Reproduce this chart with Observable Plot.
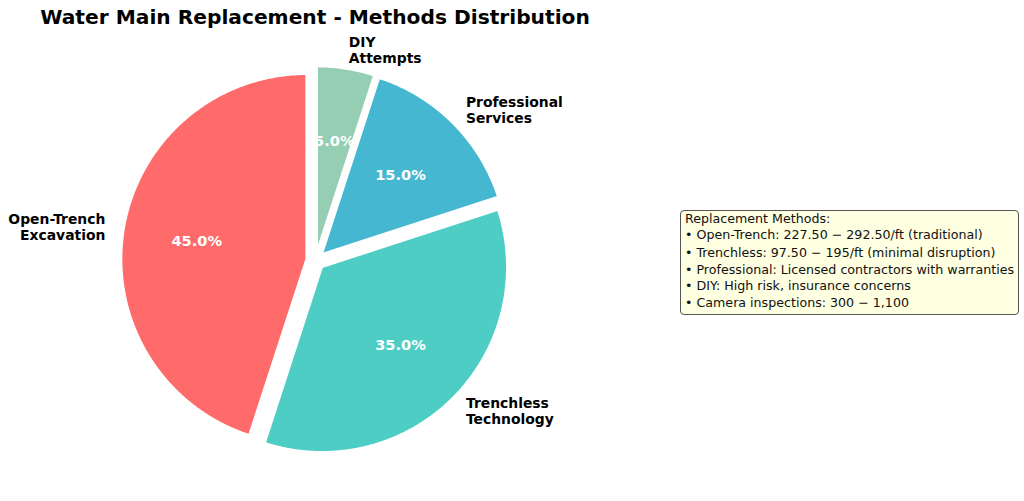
<!DOCTYPE html>
<html>
<head>
<meta charset="utf-8">
<script src="https://cdn.jsdelivr.net/npm/d3@7"></script>
<script src="https://cdn.jsdelivr.net/npm/@observablehq/plot@0.6"></script>
<style>
  html, body { margin: 0; padding: 0; background: #fff; }
  body { width: 1024px; height: 501px; position: relative; overflow: hidden; font-family: "DejaVu Sans", sans-serif; }
  #title { position: absolute; left: 0; top: 0; width: 630px; height: 30px; line-height: 34px; text-align: center; font-size: 20.2px; font-weight: bold; color: #000; }
  #chart { position: absolute; left: 0; top: 30px; }
  #note { position: absolute; left: 680px; top: 210px; width: 339px; height: 105px; box-sizing: border-box;
          border: 1px solid #555; border-radius: 4px; background: rgb(255,255,226); padding: 0 0 0 4px; font-size: 12.65px; color: #111; }
  #note div { white-space: nowrap; }
</style>
</head>
<body>
<div id="title"></div>
<div id="chart"></div>
<div id="note"></div>
<script>
const title = "Water Main Replacement - Methods Distribution";
const categories = ["Open-Trench\nExcavation", "Trenchless\nTechnology", "Professional\nServices", "DIY\nAttempts"];
const shares = [45, 35, 15, 5];
const colors = ["#FF6B6B", "#4ECDC4", "#45B7D1", "#96CEB4"];
const explode = [0.05, 0.05, 0.05, 0.05];
const startAngle = 90;
const noteLines = [
  "Replacement Methods:",
  "• Open-Trench: 227.50 − 292.50/ft (traditional)",
  "• Trenchless: 97.50 − 195/ft (minimal disruption)",
  "• Professional: Licensed contractors with warranties",
  "• DIY: High risk, insurance concerns",
  "• Camera inspections: 300 − 1,100"
];
const noteLineHeights = [15, 18, 18, 15.5, 16, 17.5];

document.getElementById("title").textContent = title;
const note = document.getElementById("note");
noteLines.forEach((t, i) => {
  const d = document.createElement("div");
  d.textContent = t;
  d.style.height = noteLineHeights[i] + "px";
  d.style.lineHeight = noteLineHeights[i] + "px";
  note.appendChild(d);
});

// geometry in unit-radius coordinates
const total = d3.sum(shares);
const slices = [];
let a0 = startAngle;
shares.forEach((v, i) => {
  const sweep = 360 * v / total;
  const a1 = a0 + sweep;
  const mid = (a0 + a1) / 2 * Math.PI / 180;
  const ox = explode[i] * Math.cos(mid), oy = explode[i] * Math.sin(mid);
  slices.push({i, a0, a1, mid, ox, oy, value: v, label: categories[i], color: colors[i]});
  a0 = a1;
});

const pts = [];
for (const s of slices) {
  pts.push({key: s.i, color: s.color, x: s.ox, y: s.oy});
  const n = Math.max(8, Math.ceil((s.a1 - s.a0) * 2));
  for (let k = 0; k <= n; k++) {
    const a = (s.a0 + (s.a1 - s.a0) * k / n) * Math.PI / 180;
    pts.push({key: s.i, color: s.color, x: s.ox + Math.cos(a), y: s.oy + Math.sin(a)});
  }
}

const labels = slices.map(s => ({
  text: s.label,
  x: s.ox + 1.1 * Math.cos(s.mid),
  y: s.oy + 1.1 * Math.sin(s.mid),
  left: Math.cos(s.mid) < 0
}));
const pcts = slices.map(s => ({
  text: s.value.toFixed(1) + "%",
  x: s.ox + 0.6 * Math.cos(s.mid),
  y: s.oy + 0.6 * Math.sin(s.mid)
}));

const W = 1024, H = 471, R = 185, CX = 315, CY = 230;
const chart = Plot.plot({
  width: W, height: H,
  margin: 0,
  x: {domain: [-CX / R, (W - CX) / R], range: [0, W], axis: null},
  y: {domain: [-(H - CY) / R, CY / R], range: [H, 0], axis: null},
  style: {fontFamily: "DejaVu Sans, sans-serif", background: "transparent"},
  marks: [
    Plot.line(pts, {x: "x", y: "y", z: "key", fill: "color", stroke: "white", strokeWidth: 2, curve: "linear-closed", strokeLinejoin: "round"}),
    Plot.text(labels.filter(d => d.left), {x: "x", y: "y", text: "text", textAnchor: "end", lineAnchor: "middle", lineHeight: 1.15, fontSize: 13.9, fontWeight: "bold", fill: "black"}),
    Plot.text(labels.filter(d => !d.left), {x: "x", y: "y", text: "text", textAnchor: "start", lineAnchor: "middle", lineHeight: 1.15, fontSize: 13.9, fontWeight: "bold", fill: "black"}),
    Plot.text(pcts, {x: "x", y: "y", text: "text", lineAnchor: "middle", fontSize: 14.6, fontWeight: "bold", fill: "white"})
  ]
});
document.getElementById("chart").appendChild(chart);
</script>
</body>
</html>
